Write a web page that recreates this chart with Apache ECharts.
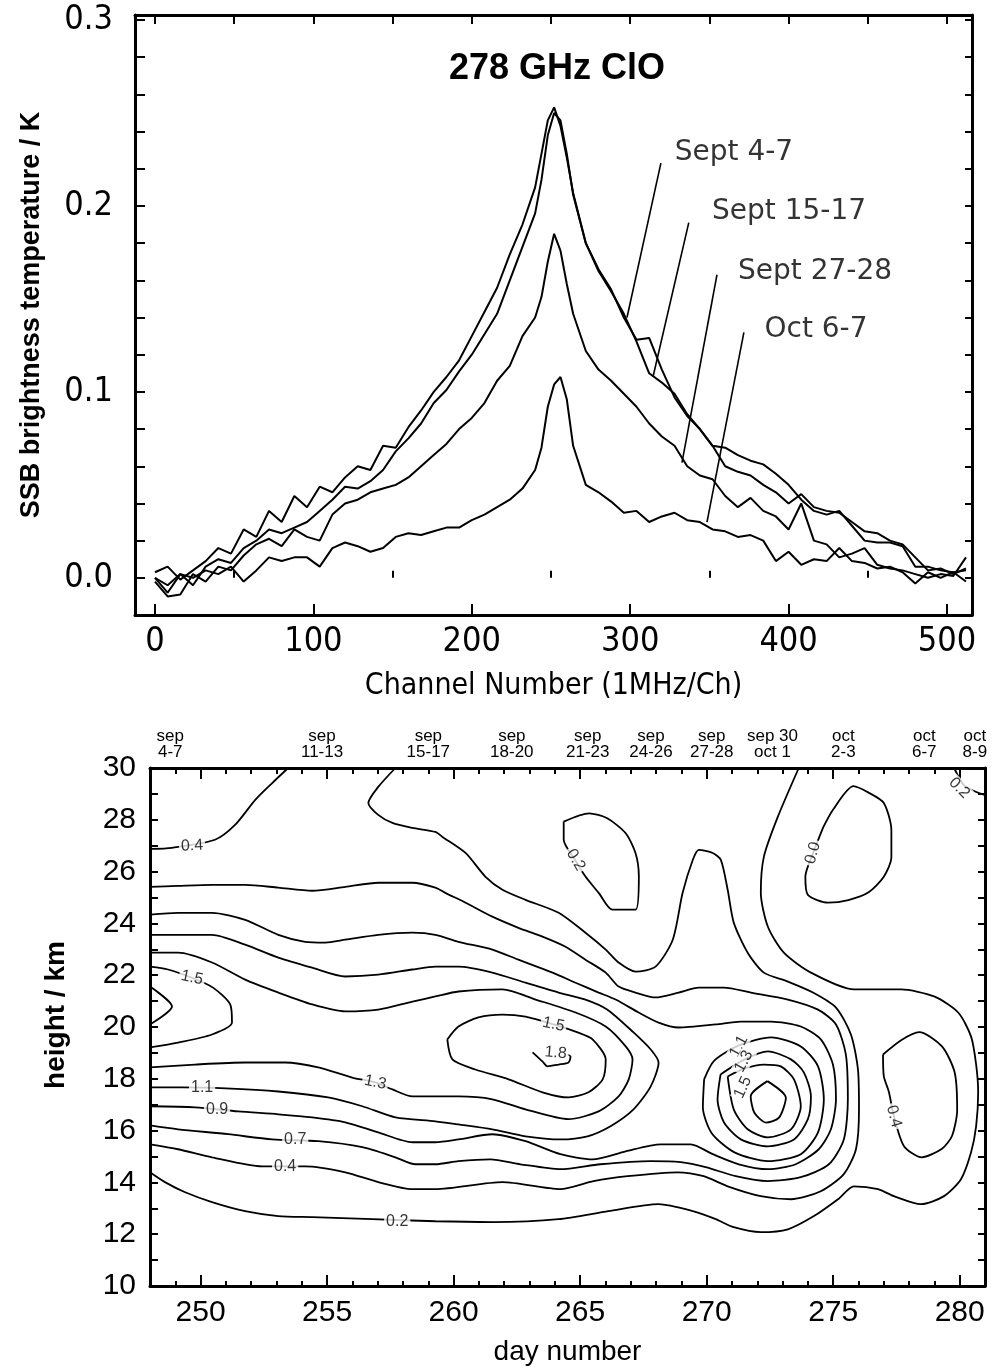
<!DOCTYPE html>
<html><head><meta charset="utf-8">
<script src="https://cdn.jsdelivr.net/npm/echarts@6/dist/echarts.min.js"></script>
<style>html,body{margin:0;padding:0;background:#fff}#c{width:993px;height:1367px}</style>
</head><body><div id="c"></div>
<script>
// ---------- top panel data ----------
const channels = [0,8,16,24,32,40,48,56,64,72,80,88,96,104,112,120,128,136,144,152,160,168,176,184,192,200,208,216,224,232,240,244,248,252,256,260,264,272,280,288,296,304,312,320,328,336,344,352,360,368,376,384,392,400,408,416,424,432,440,448,456,464,472,480,488,496,504,512];
const sept4_7 = [0.003,0.006,-0.001,0.004,0.009,0.016,0.013,0.026,0.022,0.036,0.030,0.044,0.038,0.049,0.046,0.054,0.060,0.058,0.071,0.070,0.081,0.090,0.100,0.108,0.117,0.130,0.143,0.156,0.174,0.190,0.210,0.228,0.246,0.253,0.243,0.226,0.207,0.180,0.166,0.155,0.140,0.128,0.129,0.112,0.097,0.087,0.080,0.071,0.070,0.066,0.063,0.061,0.056,0.050,0.042,0.036,0.034,0.036,0.028,0.020,0.019,0.019,0.017,0.006,0.006,0.004,0.003,0.004];
const sept15_17 = [0.000,-0.008,0.002,-0.004,0.006,0.010,0.008,0.016,0.020,0.026,0.024,0.027,0.030,0.036,0.042,0.049,0.048,0.052,0.058,0.068,0.075,0.083,0.094,0.101,0.111,0.120,0.131,0.142,0.160,0.178,0.196,0.214,0.238,0.250,0.246,0.228,0.206,0.180,0.165,0.154,0.142,0.127,0.110,0.105,0.099,0.088,0.080,0.071,0.060,0.057,0.055,0.050,0.046,0.040,0.045,0.038,0.036,0.035,0.030,0.025,0.024,0.020,0.018,0.011,0.004,0.005,0.002,0.005];
const sept27_28 = [-0.002,-0.010,-0.009,0.002,-0.002,0.006,0.004,0.012,0.018,0.021,0.017,0.026,0.022,0.020,0.034,0.040,0.042,0.046,0.048,0.050,0.054,0.060,0.066,0.072,0.080,0.086,0.094,0.106,0.114,0.130,0.140,0.151,0.170,0.185,0.176,0.158,0.142,0.122,0.112,0.106,0.099,0.092,0.083,0.076,0.071,0.060,0.055,0.053,0.044,0.038,0.043,0.036,0.033,0.026,0.040,0.020,0.018,0.011,0.013,0.016,0.007,0.005,0.004,0.002,0.000,0.002,0.001,0.011];
const oct6_7 = [0.000,-0.004,0.002,0.000,0.004,0.002,0.006,-0.002,0.004,0.011,0.009,0.011,0.011,0.006,0.016,0.019,0.017,0.014,0.016,0.022,0.024,0.023,0.025,0.027,0.027,0.031,0.034,0.038,0.042,0.048,0.058,0.070,0.092,0.104,0.108,0.096,0.071,0.050,0.046,0.041,0.035,0.036,0.030,0.033,0.035,0.031,0.030,0.026,0.025,0.022,0.023,0.020,0.009,0.014,0.007,0.010,0.009,0.016,0.009,0.008,0.005,0.006,0.003,-0.003,0.003,0.000,0.003,-0.002];
const spectraNames = ['Sept 4-7','Sept 15-17','Sept 27-28','Oct 6-7'];
const spectraLabelCh = [365.5,400.3,416.7,417.3];
const spectraLabelVal = [0.2285,0.197,0.1645,0.1333];
const pointerCh = [[319.4,298],[337,314.4],[354.8,332.7],[371.8,348.5]];
const pointerVal = [[0.223,0.140],[0.191,0.108],[0.163,0.062],[0.132,0.030]];
const chanLabels = [0,100,200,300,400,500];
const chanTopTicks = [0,50,100,150,200,250,300,350,400,450,500];
const chanMinorTicks = [50,150,250,350,450];
const tempLabels = [0,0.1,0.2,0.3];
const tempTicks = [0,0.02,0.04,0.06,0.08,0.1,0.12,0.14,0.16,0.18,0.2,0.22,0.24,0.26,0.28,0.3];

// ---------- bottom panel data (contours: [day, height km]) ----------
const dayLabels = [250,255,260,265,270,275,280];
const dayTicks = [248,249,250,251,252,253,254,255,256,257,258,259,260,261,262,263,264,265,266,267,268,269,270,271,272,273,274,275,276,277,278,279,280,281];
const heightLabels = [10,12,14,16,18,20,22,24,26,28,30];
const heightTicks = [10,11,12,13,14,15,16,17,18,19,20,21,22,23,24,25,26,27,28,29,30];
const periodDays = [248.8,254.8,259.0,262.3,265.3,267.8,270.2,272.6,275.4,278.6,280.6];
const periodLabels = ['sep\n4-7','sep\n11-13','sep\n15-17','sep\n18-20','sep\n21-23','sep\n24-26','sep\n27-28','sep 30\noct 1','oct\n2-3','oct\n6-7','oct\n8-9'];

const c04TopLeft = [[248,26.88],[248.87,26.92],[250.57,27.23],[251.36,27.8],[252.16,28.77],[252.83,29.42],[253.46,30]];
const c04Main = [[257.7,30],[257.02,29.27],[256.63,28.65],[257.02,28.19],[257.58,27.88],[258.37,27.69],[259.28,27.53],[259.56,27.34],[260.47,26.72],[261.26,25.8],[261.93,25.3],[262.84,24.91],[264.15,24.41],[265.21,23.64],[266.01,22.99],[266.52,22.49],[267.19,22.14],[267.98,22.33],[268.66,23.37],[269.05,25.18],[269.45,26.45],[269.69,26.84],[270.24,26.72],[270.56,26.45],[270.83,25.3],[271.07,24.03],[271.62,22.87],[272.26,22.1],[273.21,21.75],[274.2,21.33],[275.11,20.75],[275.7,19.71],[275.98,18.36],[276.02,16.82],[275.9,15.28],[275.42,14.32],[274.51,13.66],[273.33,13.35],[272.14,13.47],[270.83,13.85],[269.88,14.24],[268.85,14.39],[266.88,14.24],[265.53,14.05],[264.22,13.74],[261.93,14.01],[259.28,13.74],[258.37,13.74],[257.02,14.01],[255.72,14.39],[254.13,14.62],[252.43,14.62],[250.45,14.97],[249.11,15.28],[248,15.47]];
const c07 = [[248,25.41],[249.11,25.45],[250.45,25.49],[251.76,25.49],[253.07,25.38],[254.41,25.26],[255.72,25.41],[257.02,25.57],[258.37,25.57],[259.28,25.38],[259.67,25.18],[260.47,24.8],[261.53,24.26],[262.56,23.83],[263.51,23.49],[264.42,23.1],[265.21,22.6],[266.01,22.1],[266.52,21.56],[267.19,21.33],[267.98,21.14],[268.89,21.33],[269.69,21.52],[270.68,21.52],[271.74,21.33],[273.21,21.06],[274.4,20.67],[275.11,20.1],[275.5,18.94],[275.58,17.21],[275.42,15.66],[274.83,14.7],[273.72,14.2],[272.42,14.05],[271.15,14.24],[269.96,14.59],[268.97,14.78],[267.79,14.82],[265.8,14.7],[264.22,14.51],[262.64,14.7],[261.45,14.89],[260.19,14.82],[259.28,14.7],[258.49,14.7],[257.7,14.97],[256.39,15.36],[254.65,15.59],[252.83,15.66],[251.09,15.86],[249.11,16.05],[248,16.2]];
const c09 = [[248,24.34],[249.11,24.41],[250.45,24.41],[251.76,24.14],[253.07,23.56],[254.13,23.29],[254.93,23.26],[255.72,23.37],[257.02,23.56],[258.37,23.64],[259.28,23.56],[260.19,23.29],[261.53,22.99],[262.56,22.6],[263.91,22.1],[264.82,21.71],[265.73,21.33],[266.4,21.06],[267.31,20.56],[268.1,20.17],[268.89,19.98],[270.36,20.1],[271.35,20.21],[272.54,20.21],[273.72,20.02],[274.51,19.52],[274.99,18.55],[275.11,17.21],[274.91,16.05],[274.43,15.28],[273.52,14.7],[272.42,14.51],[271.27,14.7],[270.24,15.09],[269.37,15.47],[268.18,15.47],[266.8,15.2],[265.49,14.89],[264.22,15.09],[262.84,15.59],[261.53,15.86],[260.19,15.66],[259.28,15.55],[258.37,15.55],[257.02,15.93],[255.72,16.32],[254.41,16.51],[253.07,16.63],[251.48,16.74],[249.78,16.9],[248,16.94]];
const c11 = [[248,23.56],[249.11,23.56],[250.45,23.56],[251.76,23.18],[253.07,22.68],[254.41,22.29],[255.72,21.95],[257.02,22.02],[258.37,22.22],[259.28,22.33],[260.19,22.33],[261.53,22.1],[262.84,21.71],[264.15,21.33],[265.21,21.06],[266.08,20.67],[267.11,19.79],[267.79,19.13],[268.1,18.63],[267.79,17.71],[267.11,16.82],[266.2,16.17],[265.29,15.78],[264.22,15.66],[262.84,15.78],[261.53,16.05],[260.19,16.24],[259.28,16.36],[257.7,16.51],[256.39,16.94],[255.04,17.28],[253.07,17.51],[251.0,17.63],[249.27,17.67],[248,17.67]];
const c13 = [[248,22.87],[249.11,22.87],[250.45,22.49],[251.76,21.83],[253.07,21.33],[254.41,20.87],[255.72,20.6],[257.02,20.67],[258.37,20.98],[259.28,21.18],[260.19,21.37],[261.93,21.45],[263.24,21.06],[264.82,20.56],[266.01,20.02],[266.8,19.25],[267.07,18.75],[266.92,17.98],[266.52,17.32],[265.73,16.74],[264.54,16.44],[262.84,16.82],[261.53,17.21],[260.19,17.32],[259.28,17.32],[258.37,17.32],[257.58,17.59],[256.9,17.86],[255.99,18.05],[254.65,18.44],[253.34,18.63],[251.76,18.63],[249.78,18.55],[248,18.44]];
const c15Left = [[248,22.33],[248.71,22.22],[249.66,21.9],[250.49,21.52],[251.17,20.87],[251.24,20.17],[250.45,19.71],[249.11,19.4],[248,19.21]];
const c17Left = [[248,21.56],[248.87,20.79],[248,20.1]];
const c15Mid = [[259.75,19.52],[260.19,20.02],[260.98,20.37],[261.93,20.48],[262.84,20.4],[263.95,20.1],[264.9,19.79],[265.49,19.52],[266.01,18.75],[265.89,17.98],[265.33,17.48],[264.54,17.28],[263.51,17.48],[262.17,17.98],[260.86,18.36],[259.95,18.75],[259.75,19.52]];
const c18Mid = [[263.12,19.02],[263.51,18.67],[263.71,18.48],[264.15,18.55],[264.54,18.63],[264.62,18.86],[264.5,18.94]];
const c11Peak = [[269.9,17.98],[269.85,16.9],[270.2,15.9],[271.1,15.16],[272.42,14.82],[273.72,15.09],[274.4,15.93],[274.63,17.21],[274.4,18.48],[273.72,19.25],[272.54,19.6],[271.3,19.3],[270.3,18.7],[269.9,17.98]];
const c13Peak = [[270.55,18.17],[270.43,17.21],[270.68,16.32],[271.35,15.66],[272.42,15.39],[273.45,15.66],[274.0,16.44],[274.12,17.32],[273.84,18.25],[273.33,18.75],[272.42,19.06],[271.5,18.75],[270.55,18.17]];
const c15Peak = [[270.83,18.09],[271.07,16.82],[271.62,16.05],[272.42,15.74],[273.33,16.05],[273.72,16.94],[273.45,17.98],[272.93,18.48],[272.26,18.55],[271.5,18.4],[270.83,18.09]];
const c17Peak = [[272.4,17.91],[273.13,17.27],[272.86,16.5],[272.34,16.31],[271.88,16.7],[271.74,17.33],[272.4,17.91]];
const c02Main = [[248,14.39],[248.59,14.01],[249.39,13.62],[250.45,13.24],[251.76,12.89],[253.07,12.7],[254.41,12.66],[256.79,12.58],[259.28,12.5],[261.53,12.47],[264.15,12.58],[266.12,12.89],[268.1,13.16],[269.45,12.89],[270.36,12.58],[271.07,12.27],[272.14,12.08],[273.21,12.19],[274.24,12.7],[275.19,13.35],[275.82,13.85],[276.77,13.74],[277.4,13.47],[278.47,13.16],[279.38,13.47],[280.05,14.12],[280.45,15.16],[280.65,16.17],[280.73,17.48],[280.65,18.55],[280.45,19.63],[279.94,20.56],[278.99,21.18],[277.68,21.45],[275.82,21.45],[274.12,22.1],[273.05,22.87],[272.42,23.87],[272.14,25.18],[272.26,26.57],[272.81,28.11],[273.64,30]];
const c02Loop = [[264.35,27.93],[265.35,28.25],[266.07,28.06],[266.8,27.48],[267.19,26.71],[267.32,25.81],[267.19,24.53],[266.27,24.53],[265.74,25.17],[265.21,25.81],[264.8,26.45],[264.35,27.23],[264.35,27.93]];
const c00Loop = [[274.6,27.7],[275.0,28.4],[275.8,29.3],[276.4,29.05],[277.0,28.65],[277.3,27.6],[277.3,26.55],[277.0,25.8],[276.4,25.2],[275.6,24.9],[274.8,24.8],[274.0,25.1],[273.9,25.8],[274.2,26.7],[274.6,27.7]];
const c04Loop = [[276.97,18.94],[277.7,19.5],[278.4,19.8],[279.3,19.25],[279.8,18.25],[279.9,16.8],[279.7,15.8],[279.3,15.3],[278.5,14.97],[277.8,15.4],[277.4,16.55],[277.2,17.5],[277.0,18.1],[276.97,18.94]];
const c02Corner = [[279.78,30],[280.2,29.3],[281,28.95]];
const contourLines = [c04TopLeft,c04Main,c07,c09,c11,c13,c15Left,c17Left,c15Mid,c18Mid,c11Peak,c13Peak,c15Peak,c17Peak,c02Main,c02Loop,c00Loop,c04Loop,c02Corner];

const contourLabelText = ['0.4','1.5','1.1','0.9','0.7','0.4','0.2','1.3','1.5','1.8','0.2','1.1','1.3','1.5','0.0','0.4','0.2'];
const contourLabelDay = [249.66,249.66,250.06,250.65,253.74,253.34,257.77,256.9,263.95,264.03,264.82,271.27,271.47,271.43,274.2,277.4,279.98];
const contourLabelHeight = [27.0,21.9,17.67,16.82,15.66,14.62,12.5,17.86,20.1,19.0,26.45,19.25,18.67,17.67,26.72,16.55,29.23];
const contourLabelAngle = [3,-12,0,0,0,0,0,-12,-12,-5,-60,62,62,65,75,-75,-45];

// ---------- chart ----------
const NARROW = "'Liberation Sans Narrow','DejaVu Sans Condensed',sans-serif";
const SANS = "'Liberation Sans',Arial,sans-serif";
const BLACK = '#000';
const frame = {show:true,onZero:false,lineStyle:{color:BLACK,width:3}};
function tick(len, vals){return {show:true,inside:true,length:len,customValues:vals,lineStyle:{color:BLACK,width:2}};}

const TOP = {min:-12.6,max:515.8}, TEMP = {min:-0.02,max:0.3027};
const DAY = {min:248,max:281}, HT = {min:10,max:30};

const series = [];
[sept4_7,sept15_17,sept27_28,oct6_7].forEach((vals,k)=>{
  series.push({type:'line',name:spectraNames[k],xAxisIndex:0,yAxisIndex:0,showSymbol:false,
    data:channels.map((c,i)=>[c,vals[i]]),lineStyle:{color:BLACK,width:2},z:3});
});
pointerCh.forEach((p,k)=>{
  series.push({type:'line',xAxisIndex:0,yAxisIndex:0,showSymbol:false,
    data:[[p[0],pointerVal[k][0]],[p[1],pointerVal[k][1]]],lineStyle:{color:BLACK,width:1.6},z:4});
});
series.push({type:'scatter',xAxisIndex:0,yAxisIndex:0,symbolSize:1,itemStyle:{color:'rgba(0,0,0,0)'},
  data:spectraLabelCh.map((c,i)=>[c,spectraLabelVal[i]]),
  label:{show:true,position:'inside',formatter:p=>spectraNames[p.dataIndex],color:BLACK,fontFamily:"'DejaVu Sans',sans-serif",fontSize:28},z:5});

contourLines.forEach(line=>{
  series.push({type:'line',xAxisIndex:3,yAxisIndex:3,showSymbol:false,smooth:0.25,
    data:line,lineStyle:{color:BLACK,width:1.8},z:3});
});
series.push({type:'scatter',xAxisIndex:3,yAxisIndex:3,symbolSize:1,itemStyle:{color:'rgba(0,0,0,0)'},
  data:contourLabelDay.map((d,i)=>({value:[d,contourLabelHeight[i]],label:{rotate:contourLabelAngle[i]}})),
  label:{show:true,position:'inside',formatter:p=>contourLabelText[p.dataIndex],color:BLACK,
    fontFamily:SANS,fontSize:16,backgroundColor:'#fff',padding:[0,2]},z:6});

const option = {
  animation:false,
  backgroundColor:'#fff',
  title:{text:'278 GHz ClO',left:444,top:46,textStyle:{fontFamily:SANS,fontWeight:'bold',fontSize:36,color:BLACK}},
  grid:[
    {left:135,top:15,width:837,height:600},
    {left:135,top:15,width:837,height:600},
    {left:150,top:768,width:835,height:519},
    {left:150,top:768,width:835,height:519}
  ],
  xAxis:[
    {gridIndex:0,type:'value',position:'bottom',...TOP,axisLine:frame,axisTick:tick(11,chanLabels),
      axisLabel:{show:true,customValues:chanLabels,margin:10,fontFamily:NARROW,fontSize:34,color:BLACK},splitLine:{show:false},
      name:'Channel Number (1MHz/Ch)',nameLocation:'middle',nameGap:56,nameTextStyle:{fontFamily:NARROW,fontSize:30,color:BLACK}},
    {gridIndex:0,type:'value',position:'top',...TOP,axisLine:frame,axisTick:tick(9,chanTopTicks),axisLabel:{show:false},splitLine:{show:false}},
    {gridIndex:1,type:'value',position:'bottom',...TOP,axisLine:{show:false},axisTick:tick(7,chanMinorTicks),axisLabel:{show:false},splitLine:{show:false}},
    {gridIndex:2,type:'value',position:'bottom',...DAY,axisLine:frame,axisTick:tick(11,dayLabels),
      axisLabel:{show:true,customValues:dayLabels,margin:12,fontFamily:SANS,fontSize:30,color:BLACK},splitLine:{show:false},
      name:'day number',nameLocation:'middle',nameGap:52,nameTextStyle:{fontFamily:SANS,fontSize:28,color:BLACK}},
    {gridIndex:2,type:'value',position:'top',...DAY,axisLine:frame,axisTick:tick(11,dayLabels),
      axisLabel:{show:true,customValues:periodDays,margin:8,fontFamily:SANS,fontSize:17,lineHeight:16,color:BLACK,
        formatter:v=>{const i=periodDays.findIndex(d=>Math.abs(d-v)<1e-6);return i>=0?periodLabels[i]:'';}},splitLine:{show:false}},
    {gridIndex:3,type:'value',position:'bottom',...DAY,axisLine:{show:false},axisTick:tick(6,dayTicks),axisLabel:{show:false},splitLine:{show:false}},
    {gridIndex:3,type:'value',position:'top',...DAY,axisLine:{show:false},axisTick:tick(6,dayTicks),axisLabel:{show:false},splitLine:{show:false}}
  ],
  yAxis:[
    {gridIndex:0,type:'value',position:'left',...TEMP,axisLine:frame,axisTick:tick(10,tempTicks),
      axisLabel:{show:true,customValues:tempLabels,margin:22,formatter:v=>v.toFixed(1),fontFamily:NARROW,fontSize:34,color:BLACK},splitLine:{show:false},
      name:'SSB brightness temperature / K',nameLocation:'middle',nameGap:90,nameTextStyle:{fontFamily:SANS,fontWeight:'bold',fontSize:27,color:BLACK}},
    {gridIndex:0,type:'value',position:'right',...TEMP,axisLine:frame,axisTick:tick(7,tempTicks),axisLabel:{show:false},splitLine:{show:false}},
    {gridIndex:1,type:'value',show:false,...TEMP},
    {gridIndex:2,type:'value',position:'left',...HT,axisLine:frame,axisTick:tick(8,heightTicks),
      axisLabel:{show:true,customValues:heightLabels,margin:14,fontFamily:SANS,fontSize:30,color:BLACK},splitLine:{show:false},
      name:'height / km',nameLocation:'middle',nameGap:80,nameTextStyle:{fontFamily:SANS,fontWeight:'bold',fontSize:28,color:BLACK,padding:[0,0,0,24]}},
    {gridIndex:2,type:'value',position:'right',...HT,axisLine:frame,axisTick:tick(7,heightTicks),axisLabel:{show:false},splitLine:{show:false}},
    {gridIndex:3,type:'value',show:false,...HT}
  ],
  series:series
};
const chart = echarts.init(document.getElementById('c'));
chart.setOption(option);
</script>
</body></html>
